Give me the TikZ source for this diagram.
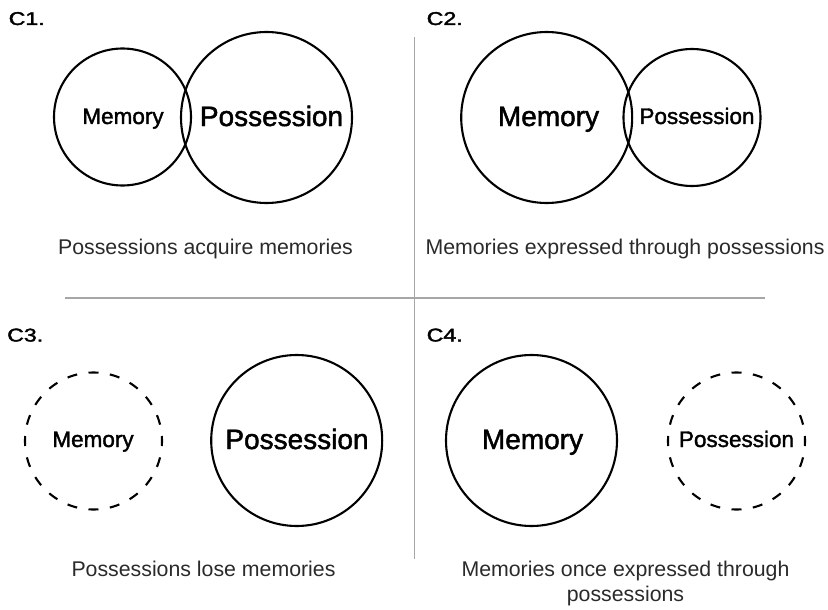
\documentclass[tikz,border=0pt]{standalone}
\usepackage{fontspec}
\setmainfont{Liberation Sans}
\newfontfamily\namefont[FakeBold=1.6]{Liberation Sans}
\newfontfamily\tagfont[FakeBold=2,FakeStretch=1.25]{Liberation Sans}
\definecolor{rule}{HTML}{A6A6A6}
\definecolor{captext}{HTML}{2A2A2A}
\begin{document}
\begin{tikzpicture}[x=1pt,y=-1pt,
  ring/.style={circle,draw=black,line width=2.1pt,inner sep=0pt,minimum size=#1},
  faded/.style={ring=#1,dash pattern=on 10pt off 11.52pt,dash phase=5pt},
  small/.style={anchor=base,inner sep=0pt,font=\namefont\fontsize{22.5}{27}\selectfont},
  large/.style={anchor=base,inner sep=0pt,font=\namefont\fontsize{28}{33}\selectfont},
  tag/.style={anchor=base west,inner sep=0pt,font=\tagfont\fontsize{18.5}{22}\selectfont},
  caption/.style={anchor=base,inner sep=0pt,text=captext,align=center,
    font=\fontsize{21.3}{25.7}\selectfont},
  divider/.style={draw=rule,line width=1.1pt}]
\useasboundingbox (0,0) rectangle (828,610);

% panel dividers
\coordinate (hl) at (65,298);
\coordinate (hr) at (765,298);
\coordinate (vt) at (414.5,37);
\coordinate (vb) at (414.5,559);
\draw[divider] (hl) -- (hr);
\draw[divider] (vt) -- (vb);

% C1
\node[tag] (t1) at (8.5,25) {C1.};
\node[ring=137pt] (m1) at (122.5,117) {};
\node[ring=171pt] (p1) at (266.5,117.5) {};
\node[small] (m1t) at (123,124) {Memory};
\node[large] (p1t) at (271.5,126) {Possession};
\node[caption] (cap1) at (205.5,254) {Possessions acquire memories};

% C2
\node[tag] (t2) at (426.5,25) {C2.};
\node[ring=171pt] (m2) at (546.7,117.5) {};
\node[ring=137pt] (p2) at (692,117.5) {};
\node[large] (m2t) at (548.5,126) {Memory};
\node[small] (p2t) at (697,124) {Possession};
\node[caption] (cap2) at (625,254) {Memories expressed through possessions};

% C3
\node[tag] (t3) at (7,341.5) {C3.};
\node[faded=137pt] (m3) at (93.5,441) {};
\node[ring=171pt] (p3) at (296.7,440.5) {};
\node[small] (m3t) at (93,447) {Memory};
\node[large] (p3t) at (297,449) {Possession};
\node[caption] (cap3) at (203.5,576) {Possessions lose memories};

% C4
\node[tag] (t4) at (426.5,341.5) {C4.};
\node[ring=171pt] (m4) at (531.5,440.5) {};
\node[faded=137pt] (p4) at (736.5,441) {};
\node[large] (m4t) at (532.5,449) {Memory};
\node[small] (p4t) at (736.5,447) {Possession};
\node[caption] (cap4) at (625.5,601.7) {Memories once expressed through\\possessions};
\end{tikzpicture}
\end{document}
